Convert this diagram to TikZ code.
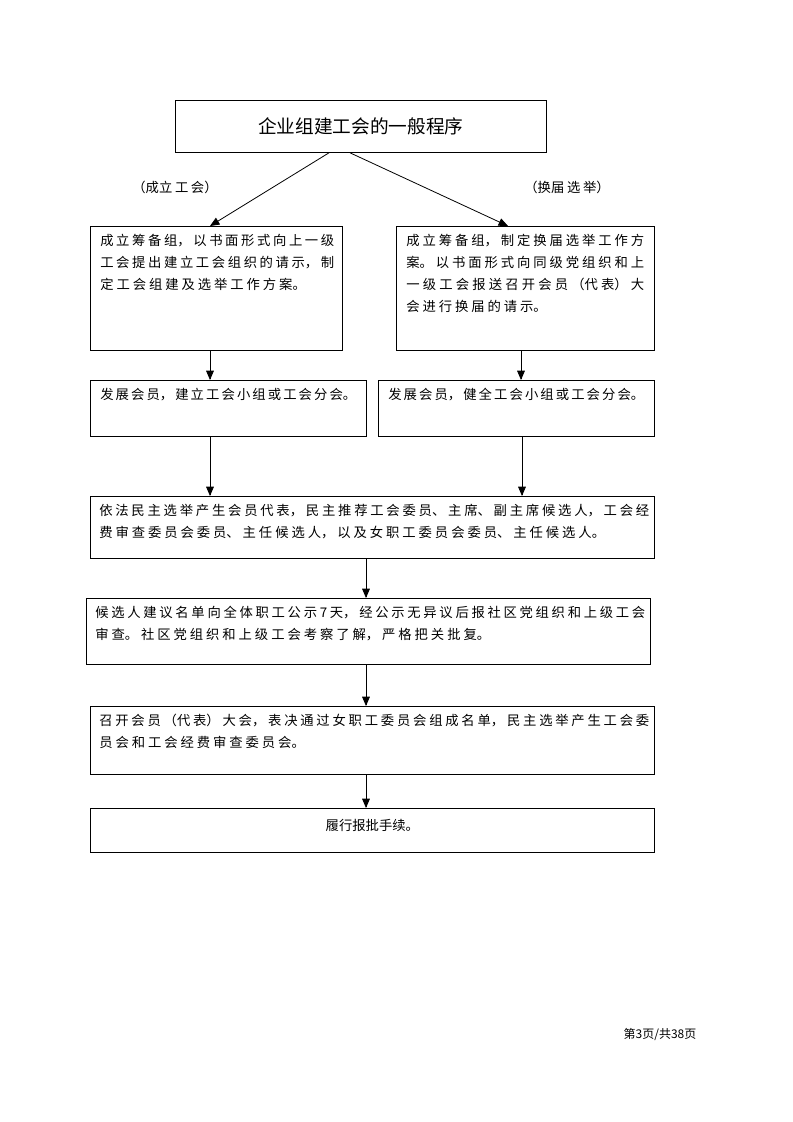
\documentclass[tikz,border=0pt]{standalone}
\usepackage{fontspec}
\setmainfont{Noto Sans CJK SC}
\usetikzlibrary{positioning, arrows}
\XeTeXlinebreaklocale "zh"
\XeTeXlinebreakskip=2.2pt plus 1.5pt minus 1pt
\tikzstyle{stepbox} = [rectangle, draw=black, semithick, anchor=north west, inner sep=0pt]
\tikzstyle{steptext} = [anchor=north west, align=justify, font=\fontsize{10pt}{16.5pt}\selectfont, inner sep=0pt]
\tikzstyle{flow} = [-triangle 45, semithick]
\begin{document}
\begin{tikzpicture}[x=0.75pt, y=-0.75pt]
            \useasboundingbox (0,0) rectangle (793,1122);
            \node[stepbox, minimum width=371*0.75pt, minimum height=52*0.75pt] (title) at (175,100) {};
            \node[font=\fontsize{14pt}{16pt}\selectfont] at (title.center) {企业组建工会的一般程序};

            \node[stepbox, minimum width=252*0.75pt, minimum height=124*0.75pt] (found) at (90,226) {};
            \node[stepbox, minimum width=258*0.75pt, minimum height=124*0.75pt] (renew) at (396,226) {};
            \node[stepbox, minimum width=276*0.75pt, minimum height=56*0.75pt]  (grow)  at (90,380) {};
            \node[stepbox, minimum width=276*0.75pt, minimum height=56*0.75pt]  (perfect) at (378,380) {};
            \node[stepbox, minimum width=564*0.75pt, minimum height=62*0.75pt]  (elect) at (90,496) {};
            \node[stepbox, minimum width=564*0.75pt, minimum height=66*0.75pt]  (publish) at (86,598) {};
            \node[stepbox, minimum width=564*0.75pt, minimum height=68*0.75pt]  (congress) at (90,706) {};
            \node[stepbox, minimum width=564*0.75pt, minimum height=44*0.75pt]  (report) at (90,808) {};

            \node[steptext, text width=234*0.75pt] at ([shift={(10,8)}]found.north west) {成立筹备组，以书面形式向上一级工会提出建立工会组织的请示，制定工会组建及选举工作方案。};
            \node[steptext, text width=238*0.75pt] at ([shift={(10,8)}]renew.north west) {成立筹备组，制定换届选举工作方案。以书面形式向同级党组织和上一级工会报送召开会员（代表）大会进行换届的请示。};
            \node[steptext, text width=256*0.75pt] at ([shift={(10,8)}]grow.north west) {发展会员，建立工会小组或工会分会。};
            \node[steptext, text width=256*0.75pt] at ([shift={(10,8)}]perfect.north west) {发展会员，健全工会小组或工会分会。};
            \node[steptext, text width=550*0.75pt] at ([shift={(9,8)}]elect.north west) {依法民主选举产生会员代表，民主推荐工会委员、主席、副主席候选人，工会经费审查委员会委员、主任候选人，以及女职工委员会委员、主任候选人。};
            \node[steptext, text width=550*0.75pt] at ([shift={(9,8)}]publish.north west) {候选人建议名单向全体职工公示7天，经公示无异议后报社区党组织和上级工会审查。社区党组织和上级工会考察了解，严格把关批复。};
            \node[steptext, text width=550*0.75pt] at ([shift={(9,8)}]congress.north west) {召开会员（代表）大会，表决通过女职工委员会组成名单，民主选举产生工会委员会和工会经费审查委员会。};
            \node[steptext, anchor=north] at ([yshift=-8]report.north) {履行报批手续。};

            \node[font=\fontsize{10pt}{12pt}\selectfont] (lfound) at (175,187) {（成立\kern2pt 工\kern2pt 会）};
            \node[font=\fontsize{10pt}{12pt}\selectfont] (lrenew) at (567,187) {（换届\kern2pt 选\kern2pt 举）};
            \node[font=\fontsize{9pt}{11pt}\selectfont] (page) at (660,1034) {第3页/共38页};

            \draw[flow] (title.south -| 329,0) -- (found.north -| 210,0);
            \draw[flow] (title.south -| 350,0) -- (renew.north -| 508,0);
            \draw[flow] (found.south -| 210,0) -- (grow.north -| 210,0);
            \draw[flow] (renew.south -| 521,0) -- (perfect.north -| 521,0);
            \draw[flow] (grow.south -| 210,0) -- (elect.north -| 210,0);
            \draw[flow] (perfect.south -| 522,0) -- (elect.north -| 522,0);
            \draw[flow] (elect.south -| 366,0) -- (publish.north -| 366,0);
            \draw[flow] (publish.south -| 366,0) -- (congress.north -| 366,0);
            \draw[flow] (congress.south -| 366,0) -- (report.north -| 366,0);
        \end{tikzpicture}
\end{document}
